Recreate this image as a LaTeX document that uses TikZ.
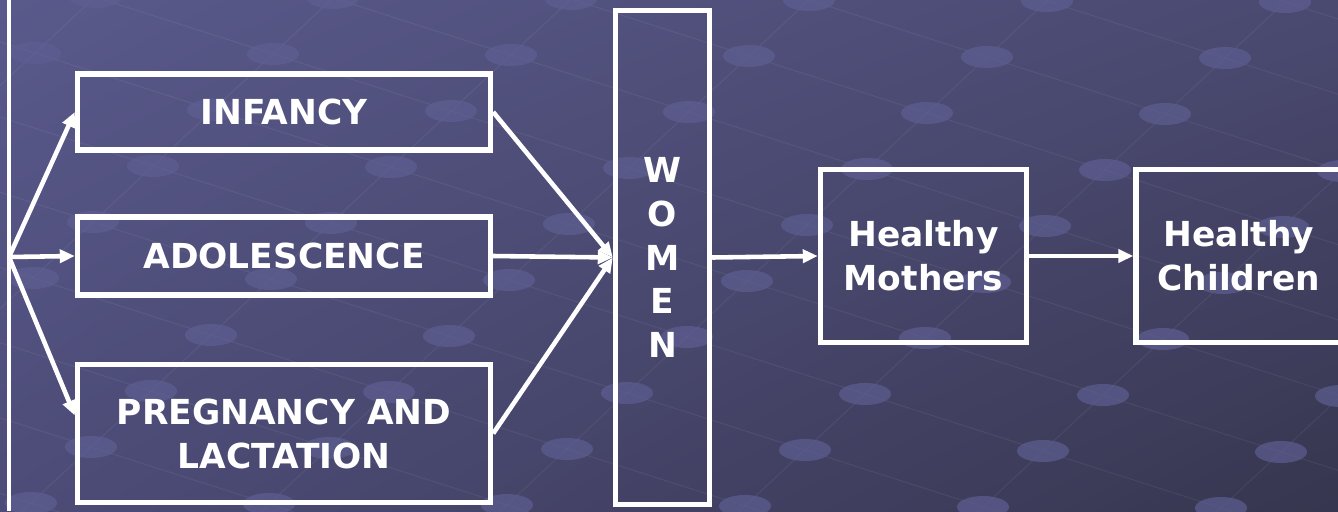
\documentclass[tikz,border=0pt]{standalone}
\usepackage{fontspec}
\setmainfont{DejaVu Sans}
\usetikzlibrary{arrows.meta,shadings}
\definecolor{bgtl}{HTML}{59598B}
\definecolor{bgtr}{HTML}{4A4970}
\definecolor{bgbl}{HTML}{4D4C78}
\definecolor{bgbr}{HTML}{37364F}
\definecolor{dotcol}{HTML}{5E5E92}
\begin{document}
\begin{tikzpicture}[x=0.02cm, y=-0.02cm,
  box/.style={draw=white, line width=3.1pt, text=white, align=center,
    font=\fontsize{19.6}{25}\selectfont\bfseries, inner sep=0pt},
  link/.style={white, line width=2.6pt, -{Triangle[length=0.3cm, width=0.26cm]}},
  bgline/.style={white, opacity=0.06, line width=0.6pt},
  bgdot/.style={fill=dotcol, opacity=0.7}]
\useasboundingbox (0,0) rectangle (1338,511);
% background
\begin{scope}
\clip (0,0) rectangle (1338,511);
\shade[upper left=bgtl, upper right=bgtr, lower left=bgbl, lower right=bgbr] (0,0) rectangle (1338,511);
\foreach \j in {-7,...,4}
  \draw[bgline] ({805-180+238*\j},{450+168+\j}) -- ++(900,-840);
\foreach \s in {-9,...,12}
  \draw[bgline] ({805+60*(\s+7)-238*7},{450-56*(\s+7)-7}) -- ++(2136,684);
\foreach \i in {-1,...,9}
  \foreach \j in {-6,...,3}
    \fill[bgdot] ({805+60*\i+238*\j},{450-56*\i+\j}) ellipse [x radius=0.52cm, y radius=0.22cm];
\end{scope}
% diagram
\coordinate (top) at (9,0);
\coordinate (bot) at (9,511);
\coordinate (s) at (9,257);
\draw[white, line width=1.8pt] (top) -- (bot);
\node[box, minimum width=8.26cm, minimum height=1.52cm] (a) at (284,112) {INFANCY};
\node[box, minimum width=8.26cm, minimum height=1.56cm] (b) at (284,256) {ADOLESCENCE};
\node[box, minimum width=8.26cm, minimum height=2.76cm] (c) at (284,433.5) {PREGNANCY AND\\LACTATION};
\node[box, minimum width=1.88cm, minimum height=9.88cm] (d) at (662.5,257.5) {W\\O\\M\\E\\N};
\node[box, minimum width=4.12cm, minimum height=3.46cm] (e) at (923.5,256) {Healthy\\Mothers};
\node[box, minimum width=4.12cm, minimum height=3.46cm] (f) at (1239,256) {Healthy\\Children};
\draw[link] (s) -- (a.west);
\draw[link] (s) -- (b.west);
\draw[link] (s) -- ([yshift=0.36cm]c.west);
\draw[link] (a.east) -- (d.west);
\draw[link] (b.east) -- (d.west);
\draw[link] (c.east) -- (d.west);
\draw[link] (d.east) -- (e.west);
\draw[link] (e.east) -- (f.west);
\end{tikzpicture}
\end{document}
